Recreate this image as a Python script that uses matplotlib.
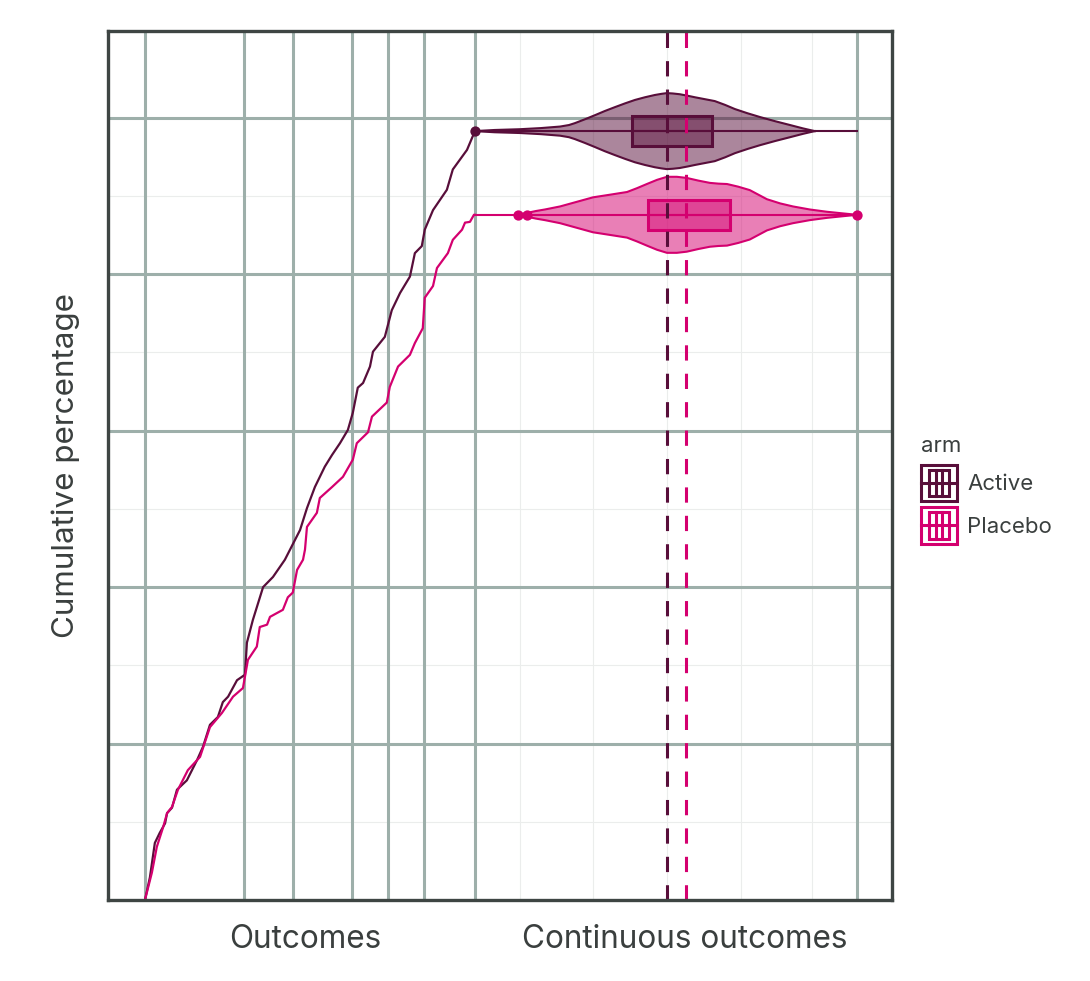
import matplotlib
matplotlib.use('Agg')
import matplotlib.pyplot as plt
import matplotlib.transforms as mtransforms
from matplotlib.legend_handler import HandlerBase
from matplotlib.patches import Rectangle
from matplotlib.lines import Line2D

plt.rcParams['font.family'] = ['Inter', 'DejaVu Sans']

# ---------------- data ----------------
arms = ['Active', 'Placebo']
arm_colors = ['#580E3A', '#D4006F']

# cumulative percentage curves (x: position on outcome scale 0-100, y: cumulative %)
active_x = [0.0, 1.5, 3.0, 4.5, 6.1, 6.7, 8.2, 9.7, 12.7, 15.8, 17.6, 19.7, 22.1, 23.6,
            25.2, 27.9, 30.3, 30.9, 32.7, 35.8, 38.8, 42.4, 47.0, 49.1, 51.5, 54.5,
            56.7, 59.1, 61.5, 63.0, 64.5, 66.1, 68.2, 69.1, 72.7, 74.8, 77.3, 80.3,
            81.8, 83.9, 84.8, 87.3, 91.5, 93.3, 97.6, 100.0]
active_y = [0.0, 2.9, 7.3, 8.6, 9.8, 11.1, 11.8, 14.1, 15.3, 17.9, 19.6, 22.4, 23.4, 25.3,
            26.0, 28.1, 28.8, 32.9, 35.8, 40.0, 41.3, 43.5, 47.3, 50.1, 52.8, 55.4,
            56.9, 58.4, 60.1, 62.3, 65.5, 66.1, 68.2, 70.1, 72.0, 75.4, 77.6, 79.7,
            82.7, 83.6, 85.7, 88.2, 90.8, 93.4, 95.9, 98.3]
placebo_x = [0.0, 2.1, 3.6, 5.5, 6.7, 8.2, 10.0, 13.0, 16.7, 19.7, 23.3, 26.7, 29.7, 31.2,
             33.9, 34.8, 37.0, 37.9, 41.8, 43.3, 44.8, 46.1, 47.9, 48.5, 49.1, 52.1,
             53.0, 56.7, 60.0, 63.0, 64.2, 67.6, 68.8, 73.3, 74.2, 76.7, 80.3, 81.8,
             84.2, 84.8, 87.3, 88.5, 91.8, 93.3, 96.1, 97.0, 98.5, 99.7, 100.0]
placebo_y = [0.0, 3.5, 6.8, 9.3, 11.1, 11.9, 14.1, 16.6, 18.3, 22.1, 23.9, 26.0, 27.1, 30.7,
             32.4, 34.9, 35.2, 36.2, 37.1, 38.7, 39.3, 42.2, 43.5, 44.8, 47.7, 49.5,
             51.4, 52.8, 54.1, 56.3, 58.4, 59.8, 61.8, 63.6, 65.6, 68.2, 69.7, 71.2,
             73.1, 77.0, 78.5, 80.8, 82.7, 84.4, 85.7, 86.6, 86.7, 87.6, 87.6]

# continuous outcome (plotted on the 100 - 215.8 part of the x scale)
cont_range = [100.0, 215.8]
active_violin_x = [100.0, 106.0, 113.6, 120.0, 125.8, 128.5, 130.3, 133.3, 136.4, 139.4,
                   142.4, 145.5, 148.5, 151.5, 154.5, 156.5, 158.2, 160.0, 162.1, 164.5,
                   166.7, 169.7, 172.7, 175.8, 178.8, 182.6, 186.4, 191.0, 195.5, 199.5,
                   203.0]
active_violin_d = [0.0, 0.03, 0.05, 0.08, 0.12, 0.16, 0.21, 0.31, 0.42, 0.53,
                   0.63, 0.73, 0.82, 0.89, 0.95, 0.98, 1.0, 0.99, 0.97, 0.93,
                   0.89, 0.84, 0.79, 0.69, 0.58, 0.47, 0.37, 0.26, 0.16, 0.07,
                   0.0]
placebo_violin_x = [113.0, 115.8, 118.5, 121.2, 125.8, 130.8, 135.8, 141.0, 146.1, 149.1,
                    152.1, 155.2, 158.2, 161.2, 164.2, 167.7, 171.2, 173.8, 176.4, 179.8,
                    183.3, 185.9, 188.5, 192.5, 196.4, 201.5, 206.7, 211.2, 215.8]
placebo_violin_d = [0.0, 0.05, 0.10, 0.14, 0.22, 0.34, 0.46, 0.53, 0.60, 0.70,
                    0.81, 0.92, 1.0, 1.0, 0.97, 0.90, 0.84, 0.82, 0.81, 0.74,
                    0.65, 0.53, 0.41, 0.30, 0.22, 0.14, 0.08, 0.04, 0.0]
active_box = [147.6, 158.2, 171.8]    # q1, median, q3
placebo_box = [152.4, 163.9, 177.3]
active_outliers = [100.0]
placebo_outliers = [113.0, 115.8, 215.8]

# grid breaks
outcome_breaks = [0.0, 30.0, 44.8, 62.7, 73.6, 84.5, 100.0, 215.8]
cont_minor_breaks = [113.6, 135.8, 158.2, 180.6, 202.1]
y_major = [20, 40, 60, 80, 100]
y_minor = [10, 30, 50, 70, 90]

x_label_text = ['Outcomes', 'Continuous outcomes']
x_label_pos = [48.5, 163.6]
y_label_text = 'Cumulative percentage'
legend_title = 'arm'

# ---------------- styling ----------------
GRID_MAJOR = '#9DAFAA'
GRID_MINOR = '#EBEDEC'
SPINE = '#3E4543'
TEXT = '#3A3F3E'
VIOLIN_HW = 4.86
BOX_HH = 1.92

fig = plt.figure(figsize=(10.9, 9.81), dpi=100)
ax = fig.add_axes([108 / 1090, 81 / 981, 784 / 1090, 869 / 981])
ax.set_xlim(-11.2, 226.4)
ax.set_ylim(0, 111.1)

# grid
for y in y_minor:
    ax.axhline(y, color=GRID_MINOR, lw=0.8, zorder=0)
for x in cont_minor_breaks:
    ax.axvline(x, color=GRID_MINOR, lw=0.8, zorder=0)
for y in y_major:
    ax.axhline(y, color=GRID_MAJOR, lw=2.2, zorder=0.5)
for x in outcome_breaks:
    ax.axvline(x, color=GRID_MAJOR, lw=2.2, zorder=0.5)

curves = [(active_x, active_y), (placebo_x, placebo_y)]
violins = [(active_violin_x, active_violin_d), (placebo_violin_x, placebo_violin_d)]
boxes = [active_box, placebo_box]
outliers = [active_outliers, placebo_outliers]

for i, arm in enumerate(arms):
    c = arm_colors[i]
    cx, cy = curves[i]
    ax.plot(cx, cy, color=c, lw=1.6, zorder=3, solid_joinstyle='round')
    yc = cy[-1]
    # horizontal line through continuous part
    ax.plot(cont_range, [yc, yc], color=c, lw=1.5, zorder=4)
    vx, vd = violins[i]
    lo = [yc - d * VIOLIN_HW for d in vd]
    hi = [yc + d * VIOLIN_HW for d in vd]
    ax.fill_between(vx, lo, hi, facecolor=c, alpha=0.5, lw=0, zorder=3.5)
    ax.plot(vx, hi, color=c, lw=1.5, zorder=4, solid_joinstyle='round')
    ax.plot(vx, lo, color=c, lw=1.5, zorder=4, solid_joinstyle='round')
    q1, med, q3 = boxes[i]
    ax.add_patch(Rectangle((q1, yc - BOX_HH), q3 - q1, 2 * BOX_HH,
                           facecolor=c, alpha=0.45, lw=0, zorder=4.5))
    ax.add_patch(Rectangle((q1, yc - BOX_HH), q3 - q1, 2 * BOX_HH,
                           facecolor='none', edgecolor=c, lw=2.2, zorder=4.6))
    ax.plot([q1, q3], [yc, yc], color=c, lw=1.5, zorder=4.6)
    ax.scatter(outliers[i], [yc] * len(outliers[i]), s=55, color=c, zorder=6, lw=0)
    ax.axvline(med, color=c, lw=2.2, ls=(0, (5, 4.3)), zorder=5)

for s in ax.spines.values():
    s.set_color(SPINE)
    s.set_linewidth(2.4)
    s.set_zorder(7)
ax.set_xticks([])
ax.set_yticks([])

trans = mtransforms.blended_transform_factory(ax.transData, ax.transAxes)
for t, xp in zip(x_label_text, x_label_pos):
    ax.text(xp, -0.028, t, transform=trans, ha='center', va='top',
            fontsize=22.7, color=TEXT)
ax.set_ylabel(y_label_text, fontsize=22.6, color=TEXT, labelpad=20)


class BoxKeyHandler(HandlerBase):
    def create_artists(self, legend, orig_handle, xdescent, ydescent, width, height,
                       fontsize, trans):
        c = orig_handle.get_color()
        s = width
        x0 = -xdescent
        y0 = -ydescent + height / 2 - s / 2
        arts = []
        arts.append(Rectangle((x0, y0), s, s, facecolor='white',
                              edgecolor=c, lw=2.2, transform=trans))
        arts.append(Line2D([x0, x0 + s], [y0 + s / 2] * 2, color=c,
                           lw=2.2, transform=trans))
        arts.append(Rectangle((x0 + 0.24 * s, y0 + 0.14 * s), 0.54 * s,
                              0.72 * s, facecolor='none', edgecolor=c, lw=2.2,
                              transform=trans))
        for f in (0.43, 0.59):
            arts.append(Line2D([x0 + f * s] * 2, [y0 + 0.14 * s, y0 + 0.86 * s],
                               color=c, lw=2.2, transform=trans))
        return arts


handles = [Line2D([], [], color=c) for c in arm_colors]
leg = fig.legend(handles, arms, title=legend_title, loc='upper left',
                 bbox_to_anchor=(905 / 1090, (981 - 420) / 981), frameon=False,
                 fontsize=16, title_fontsize=16, handlelength=1.66, handleheight=1.7,
                 handletextpad=0.45, labelspacing=0.56, borderaxespad=0.3,
                 handler_map={Line2D: BoxKeyHandler()})
leg._legend_box.align = 'left'
for t in leg.get_texts():
    t.set_color(TEXT)
leg.get_title().set_color(TEXT)

fig.savefig('out.png', dpi=100, facecolor='white')
